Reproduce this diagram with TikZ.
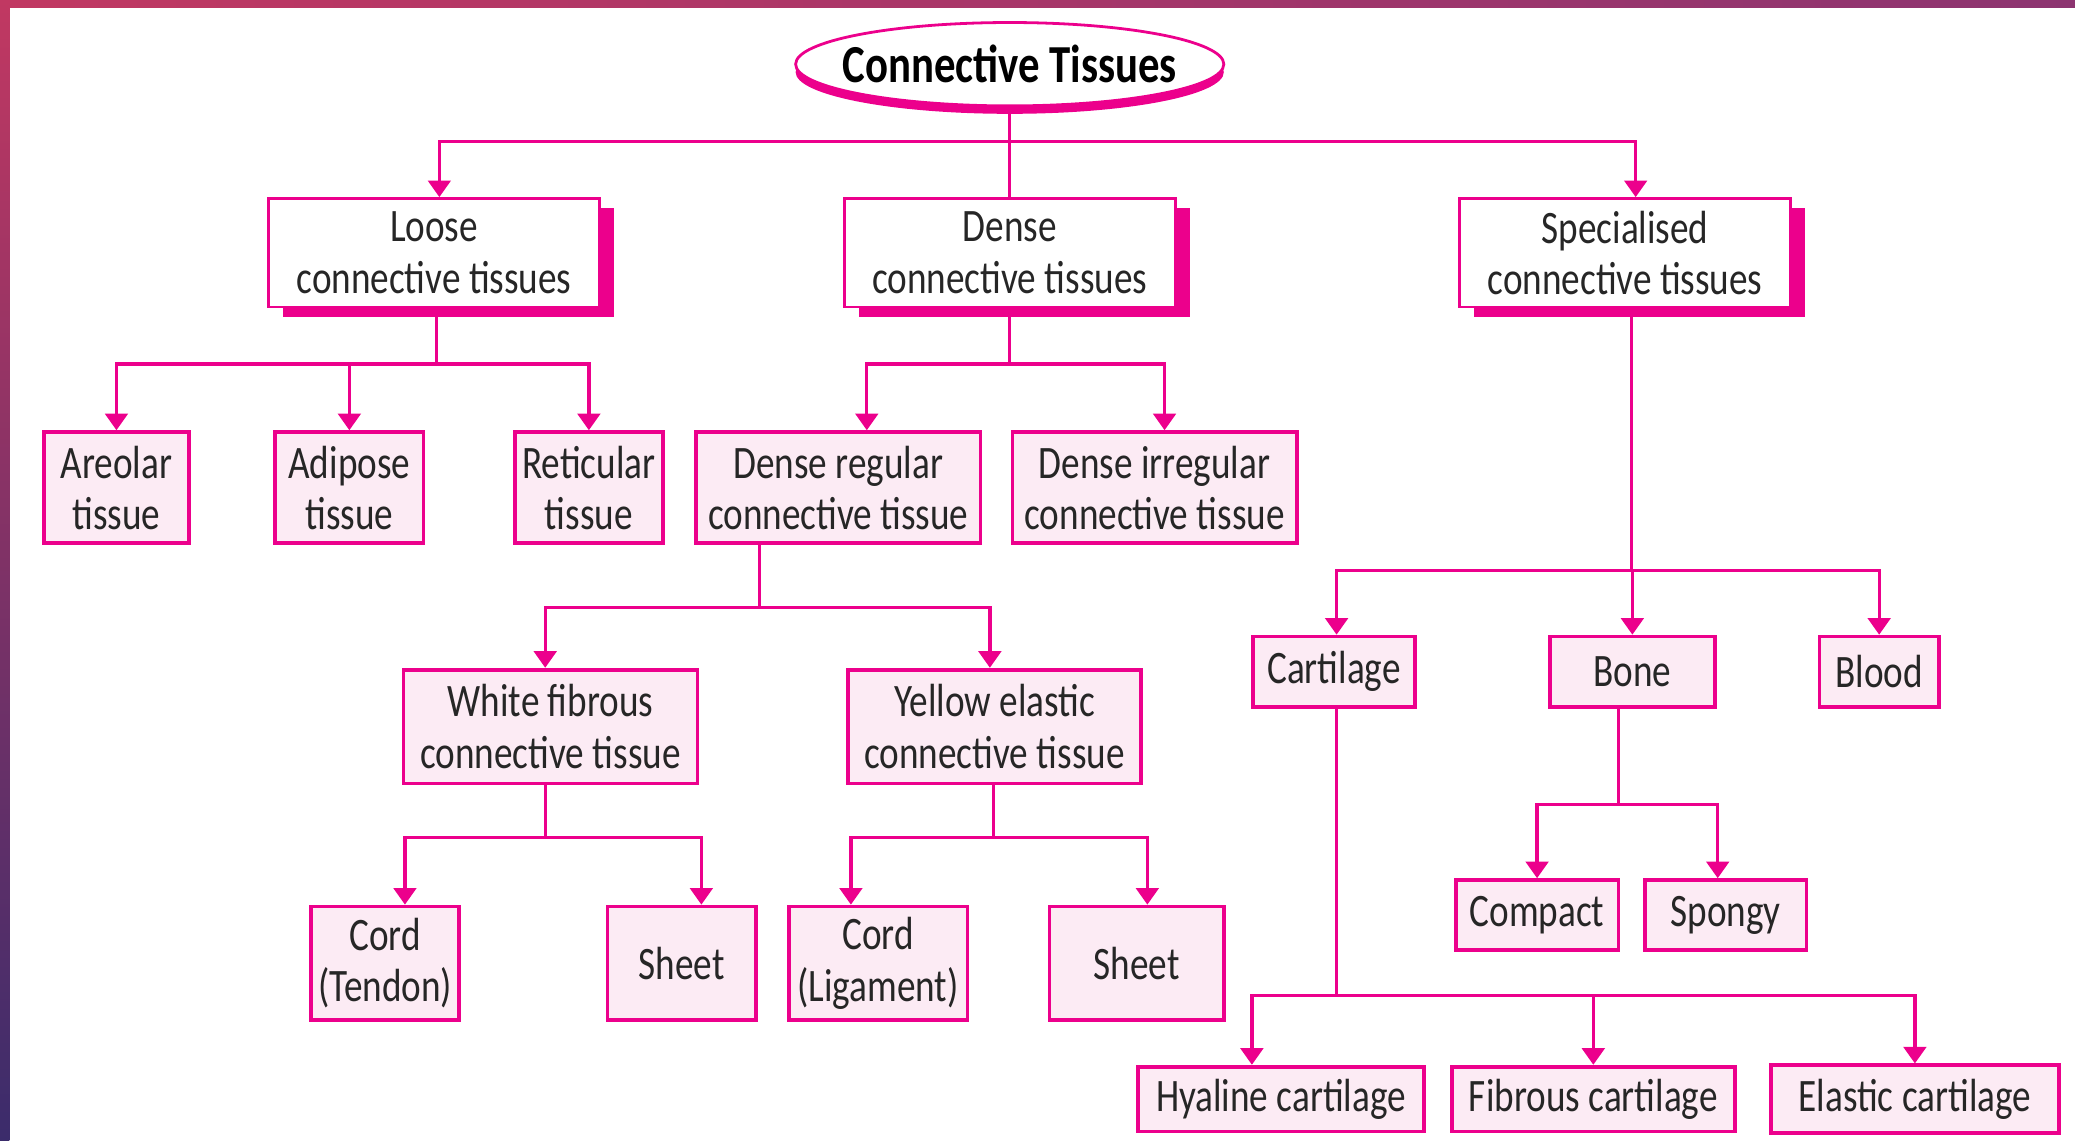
\documentclass[tikz,border=0pt]{standalone}
\usepackage{fontspec}
\setmainfont{Carlito}[FakeStretch=0.8]
\usepackage{xcolor}
\usepackage{tikz}
\usetikzlibrary{arrows.meta,shapes.geometric,shadows}
\definecolor{mag}{HTML}{EC008C}
\definecolor{leaffill}{HTML}{FCEBF4}
\definecolor{edgetop}{HTML}{C13862}
\definecolor{edgeright}{HTML}{8C3470}
\definecolor{edgebot}{HTML}{3B2C6B}

\begin{document}
\begin{tikzpicture}[font=\fontsize{10}{11}\selectfont,
  >={Triangle[length=1.25mm,width=1.7mm]},
  link/.style={draw=mag,line width=0.7pt},
  arr/.style={link,->},
  head/.style={ellipse,draw=mag,line width=0.6pt,fill=white,text=black,
               minimum width=3.2cm,minimum height=0.63cm,inner xsep=-0.12cm,inner ysep=0.03cm,
               font=\fontsize{11.5}{13}\selectfont\bfseries,
               drop shadow={shadow xshift=0cm,shadow yshift=-0.06cm,fill=mag,opacity=1}},
  group/.style={draw=mag,line width=0.6pt,fill=white,text=black!85,
                minimum width=2.5cm,minimum height=0.82cm,align=center,inner sep=1pt,
                drop shadow={shadow xshift=0.11cm,shadow yshift=-0.075cm,fill=mag,opacity=1}},
  leaf/.style={draw=mag,line width=0.8pt,fill=leaffill,text=black!85,
               align=center,inner sep=1pt,minimum height=0.84cm},
  ]
  \useasboundingbox (0,0) rectangle (15.68,-8.62);
  % slide frame
  \shade[left color=edgetop,right color=edgeright] (0,0) rectangle (15.68,-0.055);
  \shade[top color=edgetop,bottom color=edgebot] (0,0) rectangle (0.07,-8.62);

  % ---- root and the three kinds ----
  \node[head]  (ell)   at (7.63,-0.485) {Connective Tissues};
  \node[group] (loose) at (3.28,-1.91)  {Loose\\connective tissues};
  \node[group] (dense) at (7.63,-1.91)  {Dense\\connective tissues};
  \node[group] (spec)  at (12.28,-1.91) {Specialised\\connective tissues};

  \coordinate (jtop) at (7.63,-1.07);
  \draw[link] (ell) -- (dense);
  \draw[arr] (jtop) -| ([xshift=0.04cm]loose.north);
  \draw[arr] (jtop) -| ([xshift=0.08cm]spec.north);

  % ---- loose ----
  \node[leaf,minimum width=1.10cm] (areolar)   at (0.88,-3.685) {Areolar\\tissue};
  \node[leaf,minimum width=1.12cm] (adipose)   at (2.64,-3.685) {Adipose\\tissue};
  \node[leaf,minimum width=1.12cm] (reticular) at (4.45,-3.685) {Reticular\\tissue};

  \coordinate (jloose) at (3.30,-2.75);
  \draw[link] (loose.south -| jloose) -- (jloose);
  \foreach \n in {areolar,adipose,reticular}
    \draw[arr] (jloose) -| (\n.north);

  % ---- dense ----
  \node[leaf,minimum width=2.15cm] (dreg) at (6.335,-3.685) {Dense regular\\connective tissue};
  \node[leaf,minimum width=2.15cm] (dirr) at (8.725,-3.685) {Dense irregular\\connective tissue};

  \coordinate (jdense) at (7.63,-2.75);
  \draw[link] (dense.south) -- (jdense);
  \draw[arr] (jdense) -| ([xshift=0.215cm]dreg.north);
  \draw[arr] (jdense) -| ([xshift=0.075cm]dirr.north);

  \node[leaf,minimum width=2.22cm,minimum height=0.86cm] (white)  at (4.16,-5.49)  {White fibrous\\connective tissue};
  \node[leaf,minimum width=2.21cm,minimum height=0.86cm] (yellow) at (7.515,-5.49) {Yellow elastic\\connective tissue};

  \coordinate (jdreg) at (5.74,-4.59);
  \draw[link] (dreg.south -| jdreg) -- (jdreg);
  \draw[arr] (jdreg) -| ([xshift=-0.04cm]white.north);
  \draw[arr] (jdreg) -| ([xshift=-0.035cm]yellow.north);

  \node[leaf,minimum width=1.12cm,minimum height=0.86cm] (tendon)   at (2.91,-7.28)  {Cord\\(Tendon)};
  \node[leaf,minimum width=1.12cm,minimum height=0.86cm] (sheetw)   at (5.15,-7.28)  {Sheet};
  \node[leaf,minimum width=1.35cm,minimum height=0.86cm] (ligament) at (6.635,-7.28) {Cord\\(Ligament)};
  \node[leaf,minimum width=1.32cm,minimum height=0.86cm] (sheety)   at (8.59,-7.28)  {Sheet};

  \coordinate (jwhite) at (4.12,-6.33);
  \draw[link] (white.south -| jwhite) -- (jwhite);
  \draw[arr] (jwhite) -| ([xshift=0.15cm]tendon.north);
  \draw[arr] (jwhite) -| ([xshift=0.15cm]sheetw.north);

  \coordinate (jyellow) at (7.51,-6.33);
  \draw[link] (yellow.south -| jyellow) -- (jyellow);
  \draw[arr] (jyellow) -| ([xshift=-0.205cm]ligament.north);
  \draw[arr] (jyellow) -| ([xshift=0.08cm]sheety.north);

  % ---- specialised ----
  \node[leaf,minimum width=1.22cm,minimum height=0.53cm] (cart)  at (10.08,-5.075)  {Cartilage};
  \node[leaf,minimum width=1.25cm,minimum height=0.53cm] (bone)  at (12.335,-5.075) {Bone};
  \node[leaf,minimum width=0.90cm,minimum height=0.53cm] (blood) at (14.20,-5.075)  {Blood};

  \coordinate (jspec) at (12.33,-4.31);
  \draw[link] (spec.south -| jspec) -- (jspec);
  \draw[arr] (jspec) -| ([xshift=0.02cm]cart.north);
  \draw[arr] (jspec) -| (bone.north);
  \draw[arr] (jspec) -| (blood.north);

  \node[leaf,minimum width=1.23cm,minimum height=0.53cm] (compact) at (11.615,-6.915) {Compact};
  \node[leaf,minimum width=1.22cm,minimum height=0.53cm] (spongy)  at (13.04,-6.915)  {Spongy};

  \coordinate (jbone) at (12.23,-6.08);
  \draw[link] (bone.south -| jbone) -- (jbone);
  \draw[arr] (jbone) -| (compact.north);
  \draw[arr] (jbone) -| ([xshift=-0.06cm]spongy.north);

  \node[leaf,minimum width=2.16cm,minimum height=0.49cm] (hyaline) at (9.68,-8.305)  {Hyaline cartilage};
  \node[leaf,minimum width=2.14cm,minimum height=0.49cm] (fibrous) at (12.04,-8.305) {Fibrous cartilage};
  \node[leaf,minimum width=2.18cm,minimum height=0.51cm] (elastic) at (14.47,-8.305) {Elastic cartilage};

  \coordinate (jcart) at (10.10,-7.52);
  \draw[link] (cart.south -| jcart) -- (jcart);
  \draw[arr] (jcart) -| ([xshift=-0.22cm]hyaline.north);
  \draw[arr] (jcart) -| (fibrous.north);
  \draw[arr] (jcart) -| (elastic.north);
\end{tikzpicture}
\end{document}
